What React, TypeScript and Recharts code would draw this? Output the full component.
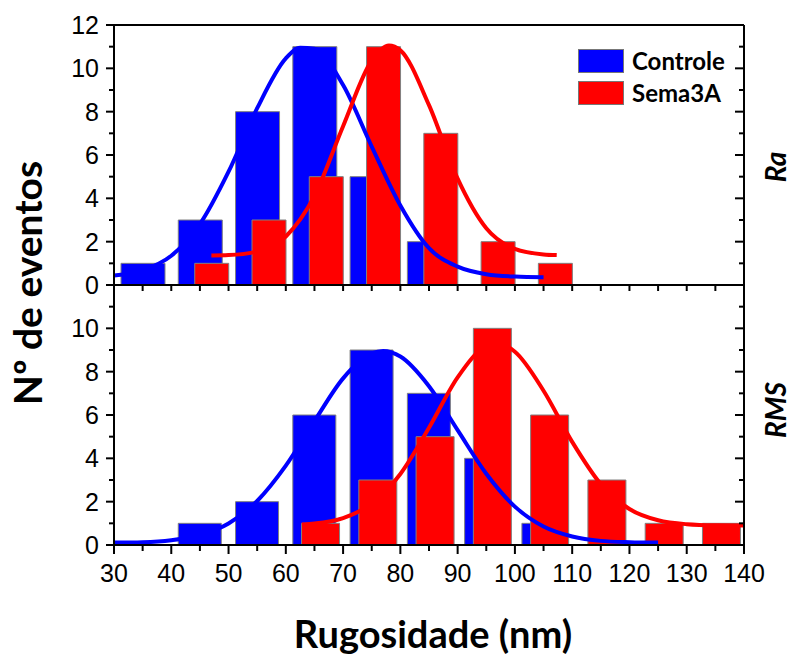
import React from 'react';
import { ComposedChart, Bar, Line, XAxis, YAxis } from 'recharts';

const WIDTH = 793;
const HEIGHT = 655;

// shared x axis (nm) and y ticks
const xTicks = [30, 35, 40, 45, 50, 55, 60, 65, 70, 75, 80, 85, 90, 95, 100, 105, 110, 115, 120, 125, 130, 135, 140];
const raYTicks = [0, 1, 2, 3, 4, 5, 6, 7, 8, 9, 10, 11, 12];
const rmsYTicks = [0, 1, 2, 3, 4, 5, 6, 7, 8, 9, 10, 11];

// Ra histogram
const raControleBins = [35, 45, 55, 65, 75, 85];
const raControleCount = [1, 3, 8, 11, 5, 2];
const raSemaBins = [47, 57, 67, 77, 87, 97, 107];
const raSemaCount = [1, 3, 5, 11, 7, 2, 1];

// RMS histogram
const rmsControleBins = [45, 55, 65, 75, 85, 95, 105];
const rmsControleCount = [1, 2, 6, 9, 7, 4, 1];
const rmsSemaBins = [66, 76, 86, 96, 106, 116, 126, 136];
const rmsSemaCount = [1, 3, 5, 10, 6, 3, 1, 1];

// fitted curves
const raControleFitX = [30, 35, 40, 45, 50, 55, 60, 62.5, 65, 70, 75, 80, 85, 90, 95, 100, 105];
const raControleFitY = [0.44, 0.68, 1.35, 2.81, 5.23, 8.16, 10.46, 10.95, 10.9, 9.23, 6.39, 3.67, 1.7, 0.85, 0.5, 0.39, 0.36];
const raSemaFitX = [47, 50, 55, 60, 65, 70, 75, 78, 80, 85, 90, 95, 100, 105, 107.3];
const raSemaFitY = [1.36, 1.38, 1.55, 2.24, 4.11, 7.33, 10.36, 11.05, 10.83, 8.3, 4.91, 2.62, 1.67, 1.41, 1.38];
const rmsControleFitX = [30, 35, 40, 45, 50, 55, 60, 65, 70, 75, 77, 80, 85, 90, 95, 100, 105, 110, 115, 120, 125];
const rmsControleFitY = [0.11, 0.13, 0.22, 0.45, 0.99, 2.03, 3.66, 5.72, 7.69, 8.84, 8.95, 8.7, 7.33, 5.3, 3.29, 1.77, 0.85, 0.39, 0.19, 0.13, 0.11];
const rmsSemaFitX = [62.8, 65, 70, 75, 80, 85, 90, 95, 97, 100, 105, 110, 115, 120, 125, 130, 135, 140];
const rmsSemaFitY = [0.95, 0.99, 1.24, 1.91, 3.28, 5.41, 7.74, 9.18, 9.3, 8.92, 7.12, 4.76, 2.81, 1.66, 1.14, 0.96, 0.91, 0.9];

const BLUE = '#0000ff';
const RED = '#ff0000';
const TICK_FONT = '"Liberation Sans", Arial, sans-serif';
const TITLE_FONT = 'Lato, "Open Sans", sans-serif';

const topMargin = { top: 25, right: 49, bottom: 370, left: 114 };
const bottomMargin = { top: 285, right: 49, bottom: 110, left: 114 };
const axisStyle = { stroke: '#000', strokeWidth: 2 };

// axes need a size of at least 1px to be drawn, so the frame charts give 1px back
const shrink = (m: any) => ({ top: m.top - 1, right: m.right - 1, bottom: m.bottom - 1, left: m.left - 1 });

const toRows = (xs: number[], ys: number[]) => xs.map((x, i) => ({ x, y: ys[i] }));

const LeftTick = (props: any) => {
  const { x, y, payload, maxLabel } = props;
  const v = payload.value;
  const major = v % 2 === 0;
  return (
    <g>
      <line x1={x - (major ? 8 : 5)} x2={x} y1={y} y2={y} stroke="#000" strokeWidth={2} />
      {major && v <= maxLabel && (
        <text x={x - 15} y={y + 9} textAnchor="end" fontSize={25} fontFamily={TICK_FONT} fill="#000">
          {v}
        </text>
      )}
    </g>
  );
};

const RightTick = (props: any) => {
  const { x, y, payload } = props;
  const major = payload.value % 2 === 0;
  return <line x1={x - (major ? 9 : 5)} x2={x} y1={y} y2={y} stroke="#000" strokeWidth={2} />;
};

const BottomTick = (props: any) => {
  const { x, y, payload } = props;
  const v = payload.value;
  const major = v % 10 === 0;
  return (
    <g>
      <line x1={x} x2={x} y1={y} y2={y + (major ? 9 : 6)} stroke="#000" strokeWidth={2} />
      {major && (
        <text x={x} y={y + 37} textAnchor="middle" fontSize={25} fontFamily={TICK_FONT} fill="#000">
          {v}
        </text>
      )}
    </g>
  );
};

const HangingTick = (props: any) => {
  const { x, y } = props;
  return <line x1={x} x2={x} y1={y} y2={y + 6} stroke="#000" strokeWidth={2} />;
};

const NoTick = () => <g />;

const Layer = ({ children }: { children: React.ReactNode }) => (
  <div style={{ position: 'absolute', left: 0, top: 0 }}>{children}</div>
);

const BarsLayer = ({ margin, data, fill, barSize }: any) => (
  <Layer>
    <ComposedChart width={WIDTH} height={HEIGHT} data={data} margin={margin}>
      <XAxis type="number" dataKey="x" domain={[30, 140]} hide allowDataOverflow />
      <YAxis type="number" domain={[0, 12]} hide allowDataOverflow />
      <Bar dataKey="y" fill={fill} stroke="#808080" strokeWidth={1} barSize={barSize} isAnimationActive={false} />
    </ComposedChart>
  </Layer>
);

const FrameLayer = ({ margin, yTicks, blueFit, redFit, bottomPanel }: any) => (
  <Layer>
    <ComposedChart width={WIDTH} height={HEIGHT} margin={shrink(margin)}>
      <XAxis
        xAxisId="b"
        type="number"
        dataKey="x"
        domain={[30, 140]}
        ticks={xTicks}
        interval={0}
        height={1}
        tickSize={0}
        tickMargin={0}
        axisLine={axisStyle}
        tickLine={false}
        tick={bottomPanel ? (p: any) => <BottomTick {...p} /> : (p: any) => <NoTick />}
        allowDataOverflow
      />
      <XAxis
        xAxisId="t"
        orientation="top"
        type="number"
        dataKey="x"
        domain={[30, 140]}
        ticks={xTicks}
        interval={0}
        height={1}
        tickSize={0}
        tickMargin={0}
        axisLine={axisStyle}
        tickLine={false}
        tick={bottomPanel ? (p: any) => <HangingTick {...p} /> : (p: any) => <NoTick />}
        allowDataOverflow
      />
      <YAxis
        yAxisId="l"
        type="number"
        domain={[0, 12]}
        ticks={yTicks}
        interval={0}
        width={1}
        tickSize={0}
        tickMargin={0}
        axisLine={axisStyle}
        tickLine={false}
        tick={(p: any) => <LeftTick {...p} maxLabel={bottomPanel ? 10 : 12} />}
        allowDataOverflow
      />
      <YAxis
        yAxisId="r"
        orientation="right"
        type="number"
        domain={[0, 12]}
        ticks={yTicks}
        interval={0}
        width={1}
        tickSize={0}
        tickMargin={0}
        axisLine={axisStyle}
        tickLine={false}
        tick={(p: any) => <RightTick {...p} />}
        allowDataOverflow
      />
      <Line xAxisId="b" yAxisId="l" data={blueFit} dataKey="y" type="monotone" stroke={BLUE} strokeWidth={4} dot={false} isAnimationActive={false} />
      <Line xAxisId="b" yAxisId="l" data={redFit} dataKey="y" type="monotone" stroke={RED} strokeWidth={4} dot={false} isAnimationActive={false} />
    </ComposedChart>
  </Layer>
);

const LegendBox = () => (
  <div style={{ position: 'absolute', left: 578, top: 49, fontFamily: TITLE_FONT, fontWeight: 700, fontSize: 24 }}>
    {[
      { label: 'Controle', color: BLUE },
      { label: 'Sema3A', color: RED },
    ].map((item) => (
      <div key={item.label} style={{ display: 'flex', alignItems: 'center', height: 24, marginBottom: 8 }}>
        <div style={{ width: 44, height: 22, background: item.color, border: '1px solid #777', marginRight: 8 }} />
        <span style={{ lineHeight: '24px' }}>{item.label}</span>
      </div>
    ))}
  </div>
);

export default function App() {
  return (
    <div style={{ position: 'absolute', left: 0, top: 0, width: WIDTH, height: HEIGHT, background: '#fff' }}>
      <BarsLayer margin={topMargin} data={toRows(raControleBins, raControleCount)} fill={BLUE} barSize={44} />
      <BarsLayer margin={topMargin} data={toRows(raSemaBins, raSemaCount)} fill={RED} barSize={34} />
      <BarsLayer margin={bottomMargin} data={toRows(rmsControleBins, rmsControleCount)} fill={BLUE} barSize={43} />
      <BarsLayer margin={bottomMargin} data={toRows(rmsSemaBins, rmsSemaCount)} fill={RED} barSize={38} />
      <FrameLayer
        margin={topMargin}
        yTicks={raYTicks}
        blueFit={toRows(raControleFitX, raControleFitY)}
        redFit={toRows(raSemaFitX, raSemaFitY)}
        bottomPanel={false}
      />
      <FrameLayer
        margin={bottomMargin}
        yTicks={rmsYTicks}
        blueFit={toRows(rmsControleFitX, rmsControleFitY)}
        redFit={toRows(rmsSemaFitX, rmsSemaFitY)}
        bottomPanel
      />
      <LegendBox />
      <svg width={WIDTH} height={HEIGHT} style={{ position: 'absolute', left: 0, top: 0, pointerEvents: 'none' }}>
        <text x={42} y={283} transform="rotate(-90 42 283)" textAnchor="middle" fontFamily={TITLE_FONT} fontWeight={700} fontSize={39} fill="#000">
          Nº de eventos
        </text>
        <text x={433} y={648} textAnchor="middle" fontFamily={TITLE_FONT} fontWeight={700} fontSize={38} fill="#000">
          Rugosidade (nm)
        </text>
        <text x={786} y={167} transform="rotate(-90 786 167)" textAnchor="middle" fontFamily={TITLE_FONT} fontWeight={700} fontStyle="italic" fontSize={28} fill="#000">
          Ra
        </text>
        <text x={786} y={410} transform="rotate(-90 786 410)" textAnchor="middle" fontFamily={TITLE_FONT} fontWeight={700} fontStyle="italic" fontSize={28} fill="#000">
          RMS
        </text>
      </svg>
    </div>
  );
}
